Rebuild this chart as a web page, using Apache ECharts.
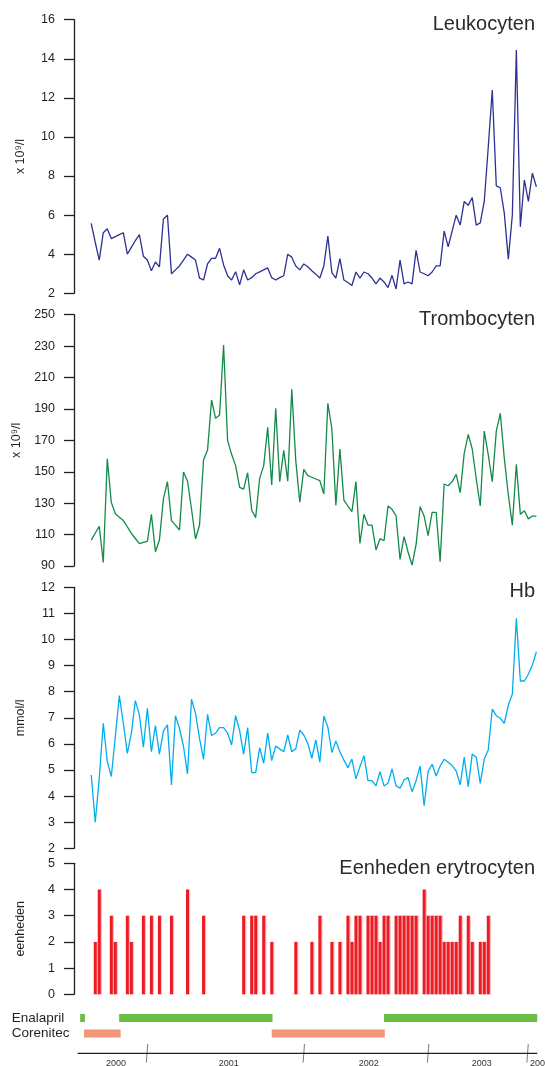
<!DOCTYPE html>
<html><head><meta charset="utf-8">
<script src="https://cdn.jsdelivr.net/npm/echarts@6/dist/echarts.min.js"></script>
<style>html,body{margin:0;padding:0;background:#fff}#c{width:545px;height:1066px}</style>
</head><body><div id="c"></div>
<script>
// visit index 0..111 is the x value for every series
const leukocyten = [5.58,4.6,3.7,5.1,5.3,4.8,4.9,5.0,5.1,4.0,4.35,4.7,5.0,3.9,3.7,3.15,3.6,3.35,5.8,6.0,
3.0,3.2,3.4,3.7,4.0,3.85,3.7,2.78,2.68,3.5,3.79,3.79,4.3,3.45,2.9,2.68,3.1,2.43,3.2,2.68,
2.8,3.0,3.1,3.2,3.3,2.8,2.68,2.8,2.9,4.0,3.85,3.4,3.2,3.5,3.36,3.15,2.98,2.78,3.4,4.93,
3.06,2.78,3.77,2.68,2.55,2.4,3.09,2.78,3.09,3.0,2.78,2.48,2.78,2.58,2.29,2.92,2.22,3.7,2.48,2.58,
2.48,4.2,3.09,3.0,2.9,3.09,3.4,3.4,5.19,4.38,5.19,6.0,5.49,6.7,6.5,6.9,5.49,5.6,6.7,9.5,
12.4,7.5,7.4,6.09,3.75,6.0,14.45,5.4,7.8,6.7,8.15,7.45];
const trombocyten = [106.5,111,115.3,92.3,158.3,130.5,123.3,121,118.9,115,110.8,107.5,104.2,105,105.7,122.9,99.1,106.5,132.9,143.7,
118.9,116,112.9,149.8,144.1,126.3,107.2,116.1,157.5,163.8,195.7,184,186.1,230.7,169.8,161.1,153.9,140.1,139,149.4,
125.7,120.8,145.8,153.9,178.3,141.6,190.4,143.7,163.6,144,202.5,157.1,130.7,151.5,147.5,146.5,145.4,144.3,135.8,193.6,
177.4,128.6,164.5,132,128.2,124.6,143.7,104.4,122.9,116.1,116,100.2,107.4,106.1,128.2,126.1,122,94.2,108.7,98.9,
90.6,103.8,127.8,121.8,109.3,124.2,124.2,92.8,142.2,141.1,143.7,148.4,136.7,161.7,173.8,164.5,145.4,128.2,175.9,160.7,
143.7,175.9,187.2,158.5,135.2,116,154.7,122.9,125.2,120,121.8,121.8];
const hb = [4.81,3.0,4.7,6.79,5.32,4.75,6.28,7.85,6.79,5.64,6.41,7.66,7.11,5.87,7.36,5.7,6.7,5.61,6.5,6.73,
4.43,7.08,6.6,5.9,4.85,7.71,7.17,6.21,5.41,7.13,6.32,6.41,6.62,6.62,6.41,5.96,7.08,6.51,5.61,6.62,
4.9,4.9,5.86,5.26,6.41,5.36,5.92,5.81,5.7,6.34,5.7,5.81,6.53,6.34,6.02,5.45,6.15,5.3,7.07,6.64,
5.67,6.11,5.7,5.38,5.09,5.42,4.66,5.13,5.55,4.59,4.59,4.39,4.94,4.39,4.49,5.04,4.39,4.3,4.62,4.71,
4.17,4.59,5.15,3.63,4.94,5.22,4.77,5.15,5.41,5.3,5.17,4.96,4.43,5.49,4.36,5.61,5.49,4.49,5.42,5.77,
7.33,7.08,6.98,6.79,7.49,7.9,10.81,8.41,8.41,8.67,9.02,9.53];
const eryVisit = [1,2,5,6,9,10,13,15,17,20,24,28,38,40,41,43,45,51,55,57,60,62,64,65,66,67,69,70,71,72,
73,74,76,77,78,79,80,81,83,84,85,86,87,88,89,90,91,92,94,95,97,98,99];
const eryUnits = [2,4,3,2,3,2,3,3,3,3,4,3,3,3,3,3,2,2,2,3,2,2,3,2,3,3,3,3,3,2,
3,3,3,3,3,3,3,3,4,3,3,3,3,2,2,2,2,3,3,2,2,2,3];
const medNames = ['Enalapril','Corenitec'];
const enalapril = [[-2.76,-1.58],[6.96,45.2],[73.0,111.2]];
const corenitec = [[-1.82,7.33],[45.0,73.2]];
const yearBreaks = [13.9,53.0,84.0,108.8];
const yearNames = ['2000','2001','2002','2003','2004'];
const yearLabelAt = [6.2,34.3,69.2,97.4,111.9];
const timelineSpan = [-3.4,111.2];
const leukoTicks = [2,16,2], tromboTicks = [90,250,20], hbTicks = [2,12,1], eryTicks = [0,5,1];

const FONT = '"Liberation Sans", Arial, Helvetica, sans-serif';
const INK = '#231f20';
const X0 = -4.3, X1 = 111.2;
const grids = [
  {top:19.7, height:273.6},
  {top:314.7, height:251.3},
  {top:587.3, height:261},
  {top:863.3, height:131},
  {top:1010.3, height:30.8},
  {top:1044, height:18.6}
].map(g => Object.assign({left:74, right:7.8, containLabel:false}, g));

const xAxes = grids.map((g,i) => ({gridIndex:i, type:'value', min:X0, max:X1, show:false}));

function yAx(i, t, name){
  return {gridIndex:i, type:'value', min:t[0], max:t[1], interval:t[2],
    name:name, nameLocation:'middle', nameGap:47,
    nameTextStyle:{fontSize:12.5, color:INK, fontFamily:FONT},
    axisLine:{show:true, onZero:false, lineStyle:{color:INK, width:1.3}},
    axisTick:{show:true, length:10, lineStyle:{color:INK, width:1.3}},
    axisLabel:{margin:19, fontSize:12.5, color:INK, fontFamily:FONT},
    splitLine:{show:false}};
}
const yAxes = [
  yAx(0, leukoTicks, 'x 10\u2079/l'),
  yAx(1, tromboTicks, 'x 10\u2079/l'),
  yAx(2, hbTicks, 'mmol/l'),
  yAx(3, eryTicks, 'eenheden'),
  {gridIndex:4, type:'category', data:medNames, inverse:true,
   axisLine:{show:false, onZero:false}, axisTick:{show:false}, splitLine:{show:false},
   axisLabel:{interval:0, align:'left', margin:62.3, fontSize:13.5, color:INK, fontFamily:FONT}},
  {gridIndex:5, type:'value', min:0, max:1, show:false}
];

function titleAt(text, top){
  return {text:text, right:10, top:top, padding:0,
    textStyle:{fontSize:20, fontWeight:'normal', color:'#2b2b2b', fontFamily:FONT}};
}

const medColors = ['#6abd45', '#f4967a'];
const medData = [];
enalapril.forEach(s => medData.push([s[0], s[1], 0]));
corenitec.forEach(s => medData.push([s[0], s[1], 1]));

const option = {
  animation:false,
  backgroundColor:'#fff',
  title:[titleAt('Leukocyten',14.1), titleAt('Trombocyten',309.1), titleAt('Hb',581.7), titleAt('Eenheden erytrocyten',858.5)],
  grid:grids, xAxis:xAxes, yAxis:yAxes,
  series:[
    {type:'line', xAxisIndex:0, yAxisIndex:0, data:leukocyten.map((v,i)=>[i,v]), symbol:'none',
     lineStyle:{color:'#2e3192', width:1.3}},
    {type:'line', xAxisIndex:1, yAxisIndex:1, data:trombocyten.map((v,i)=>[i,v]), symbol:'none',
     lineStyle:{color:'#138a48', width:1.3}},
    {type:'line', xAxisIndex:2, yAxisIndex:2, data:hb.map((v,i)=>[i,v]), symbol:'none',
     lineStyle:{color:'#00aeef', width:1.3}},
    {type:'bar', xAxisIndex:3, yAxisIndex:3, data:eryVisit.map((v,i)=>[v, eryUnits[i]]), barWidth:3,
     itemStyle:{color:'#ed1c24', shadowColor:'rgba(240,110,120,0.45)', shadowOffsetX:1.2, shadowBlur:0}},
    {type:'custom', xAxisIndex:4, yAxisIndex:4, data:medData,
     renderItem:(params, api) => {
       const a = api.coord([api.value(0), api.value(2)]);
       const b = api.coord([api.value(1), api.value(2)]);
       const h = 8;
       return {type:'rect', shape:{x:a[0], y:a[1]-h/2, width:b[0]-a[0], height:h},
               style:{fill: medColors[api.value(2)]}};
     }},
    {type:'line', xAxisIndex:5, yAxisIndex:5, data:timelineSpan.map(x=>[x,0.5]), symbol:'none',
     lineStyle:{color:INK, width:1.2}},
    {type:'custom', xAxisIndex:5, yAxisIndex:5, data:yearBreaks.map(x=>[x]),
     renderItem:(params, api) => {
       const top = api.coord([api.value(0), 1]);
       const bot = api.coord([api.value(0), 0]);
       return {type:'line', shape:{x1:top[0]+0.7, y1:top[1], x2:bot[0]-0.7, y2:bot[1]},
               style:{stroke:'#7a7a7a', lineWidth:1}};
     }},
    {type:'custom', xAxisIndex:5, yAxisIndex:5, data:yearLabelAt.map((x,i)=>[x, i]),
     renderItem:(params, api) => {
       const p = api.coord([api.value(0), 0]);
       return {type:'text', x:p[0], y:p[1]+0.6,
               style:{text:yearNames[api.value(1)], align:'center', verticalAlign:'middle',
                      fontSize:9, fontFamily:FONT, fill:'#333'}};
     }}
  ]
};
const chart = echarts.init(document.getElementById('c'), null, {renderer:'canvas'});
chart.setOption(option);
</script>
</body></html>
